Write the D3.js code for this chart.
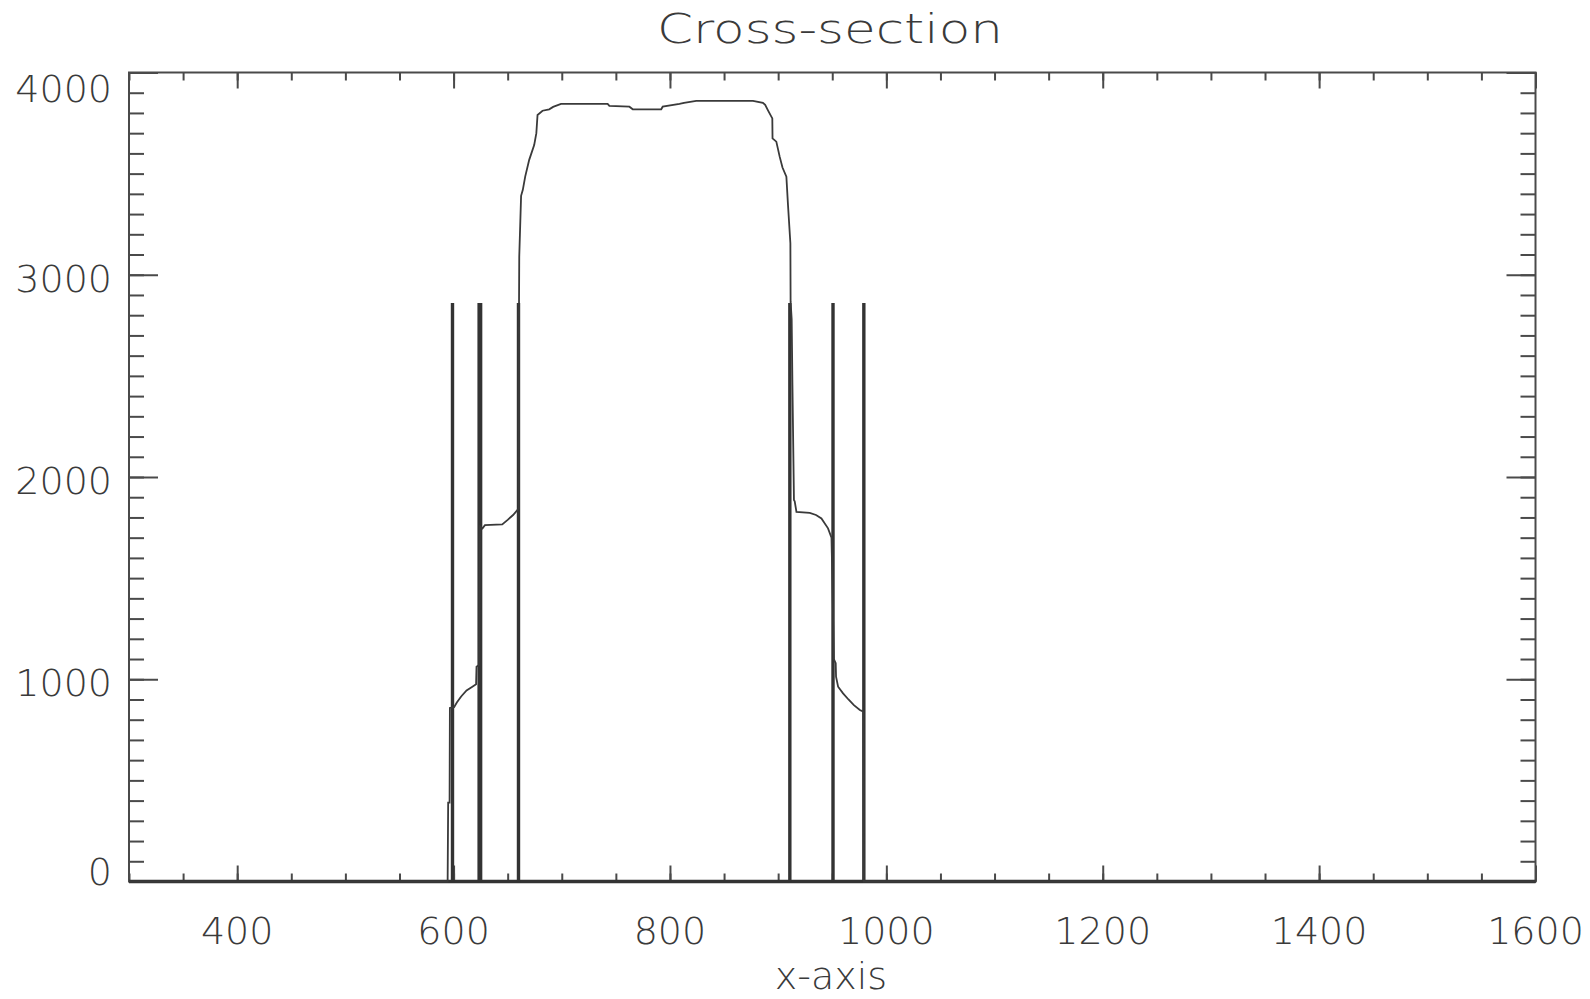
<!DOCTYPE html>
<html>
<head>
<meta charset="utf-8">
<script src="https://cdn.jsdelivr.net/npm/d3@7"></script>
<style>
  body { margin: 0; background: #fff; }
  text { font-family: "DejaVu Sans", sans-serif; font-weight: 200; fill: #3a3a3a; }
</style>
</head>
<body>
<div id="chart"></div>
<script>
// cross-section profile (x in pixels of the image row, y in counts)
profileX = [300, 594.5, 595, 596.3, 596.6, 600.5, 603, 607, 612, 617, 620.8, 621.2, 623.5, 624.5, 626.7, 629, 645, 650, 655, 659.1,
    660.3, 660.5, 660.7, 662.4, 664, 666.2, 669.9, 674.5, 676.5, 677.6, 682.2, 688.4, 692, 699.3, 742.4, 744, 762.5, 765.6, 791.9, 793.3,
    808.8, 813, 824.3, 876.7, 885.9, 888, 890.6, 894.6, 894.8, 898.3, 901.4, 904, 907.6, 909.1, 911.3, 911.5, 912.5, 913.2, 914.6, 915.3,
    916.9, 929.2, 935, 940, 946.1, 949.3, 949.6, 951.5, 953.2, 953.5, 955.4, 960, 965, 970, 975.5, 978.8, 979.2, 1600];
profileY = [0, 0, 390, 390, 858, 862, 885, 915, 945, 962, 975, 1062, 1070, 1755, 1746, 1762, 1766, 1788, 1812, 1837,
    1845, 2870, 3090, 3390, 3420, 3485, 3568, 3641, 3700, 3790, 3811, 3818, 3830, 3845, 3845, 3835, 3831, 3818, 3818, 3831,
    3845, 3850, 3860, 3860, 3850, 3840, 3813, 3773, 3674, 3658, 3584, 3530, 3485, 3345, 3156, 2867, 2780, 2455, 1886, 1880,
    1828, 1823, 1812, 1795, 1746, 1700, 1623, 1100, 1079, 1013, 963, 930, 900, 872, 848, 840, 0, 0];

// edge markers
markerX = [599, 623.6, 625, 660, 910.8, 950.7, 979.2];
markerTop = 2860;

xTicks = [400, 600, 800, 1000, 1200, 1400, 1600];
yTicks = [0, 1000, 2000, 3000, 4000];
xMinor = d3.range(300, 1601, 50);
yMinor = d3.range(0, 4001, 100);

titleText = "Cross-section";
xLabel = "x-axis";

var plotLeft = 129, plotRight = 1535.5, plotTop = 72.5, plotBottom = 881.5;

var svg = d3.select("#chart")
    .append("svg")
    .attr("width", 1590)
    .attr("height", 999);

var x = d3.scaleLinear().domain([300, 1600]).range([plotLeft, plotRight]);
var y = d3.scaleLinear().domain([0, 4000]).range([plotBottom, plotTop]);

var ink = "#4a4a4a";

function drawTicks(axis, transform) {
    var g = svg.append("g").attr("transform", transform).call(axis);
    g.selectAll("path").remove();
    g.selectAll("line").attr("stroke", ink).attr("stroke-width", 2);
    g.selectAll("text").remove();
    return g;
}

// minor + major ticks on all four sides
drawTicks(d3.axisBottom(x).tickValues(xMinor).tickSize(-8), "translate(0," + plotBottom + ")");
drawTicks(d3.axisBottom(x).tickValues(xTicks).tickSize(-16), "translate(0," + plotBottom + ")");
drawTicks(d3.axisTop(x).tickValues(xMinor).tickSize(-8), "translate(0," + plotTop + ")");
drawTicks(d3.axisTop(x).tickValues(xTicks).tickSize(-16), "translate(0," + plotTop + ")");
drawTicks(d3.axisLeft(y).tickValues(yMinor).tickSize(-15), "translate(" + plotLeft + ",0)");
drawTicks(d3.axisLeft(y).tickValues(yTicks).tickSize(-29), "translate(" + plotLeft + ",0)");
drawTicks(d3.axisRight(y).tickValues(yMinor).tickSize(-15), "translate(" + plotRight + ",0)");
drawTicks(d3.axisRight(y).tickValues(yTicks).tickSize(-29), "translate(" + plotRight + ",0)");

// frame
svg.append("rect")
    .attr("x", plotLeft).attr("y", plotTop)
    .attr("width", plotRight - plotLeft).attr("height", plotBottom - plotTop)
    .attr("fill", "none").attr("stroke", ink).attr("stroke-width", 2);
svg.append("line")
    .attr("x1", plotLeft).attr("x2", plotRight)
    .attr("y1", plotBottom).attr("y2", plotBottom)
    .attr("stroke", "#333").attr("stroke-width", 3.5);

// tick labels
svg.selectAll(".xl")
    .data(xTicks)
    .enter()
    .append("text")
    .attr("class", "xl")
    .attr("x", function (d) { return x(d); })
    .attr("y", 944)
    .attr("text-anchor", "middle")
    .style("font-size", "38px")
    .text(function (d) { return d; });

svg.selectAll(".yl")
    .data(yTicks)
    .enter()
    .append("text")
    .attr("class", "yl")
    .attr("x", 112)
    .attr("y", function (d) {
        var c = Math.min(Math.max(y(d) + 3, plotTop + 15), plotBottom - 11);
        return c + 14;
    })
    .attr("text-anchor", "end")
    .style("font-size", "38px")
    .text(function (d) { return d; });

// markers
svg.selectAll(".marker")
    .data(markerX)
    .enter()
    .append("line")
    .attr("class", "marker")
    .attr("x1", function (d) { return x(d); })
    .attr("x2", function (d) { return x(d); })
    .attr("y1", y(0))
    .attr("y2", y(markerTop))
    .attr("stroke", "#333")
    .attr("stroke-width", 3.4);

// profile
var pts = profileX.map(function (d, i) { return [d, profileY[i]]; });
svg.append("path")
    .datum(pts)
    .attr("fill", "none")
    .attr("stroke", "#3a3a3a")
    .attr("stroke-width", 1.8)
    .attr("d", d3.line()
        .x(function (d) { return x(d[0]); })
        .y(function (d) { return y(d[1]); }));

// title and axis title
svg.append("text")
    .attr("x", 830)
    .attr("y", 43)
    .attr("text-anchor", "middle")
    .attr("textLength", 346)
    .attr("lengthAdjust", "spacingAndGlyphs")
    .style("font-size", "41px")
    .text(titleText);

svg.append("text")
    .attr("x", 831)
    .attr("y", 989)
    .attr("text-anchor", "middle")
    .style("font-size", "38px")
    .text(xLabel);
</script>
</body>
</html>
